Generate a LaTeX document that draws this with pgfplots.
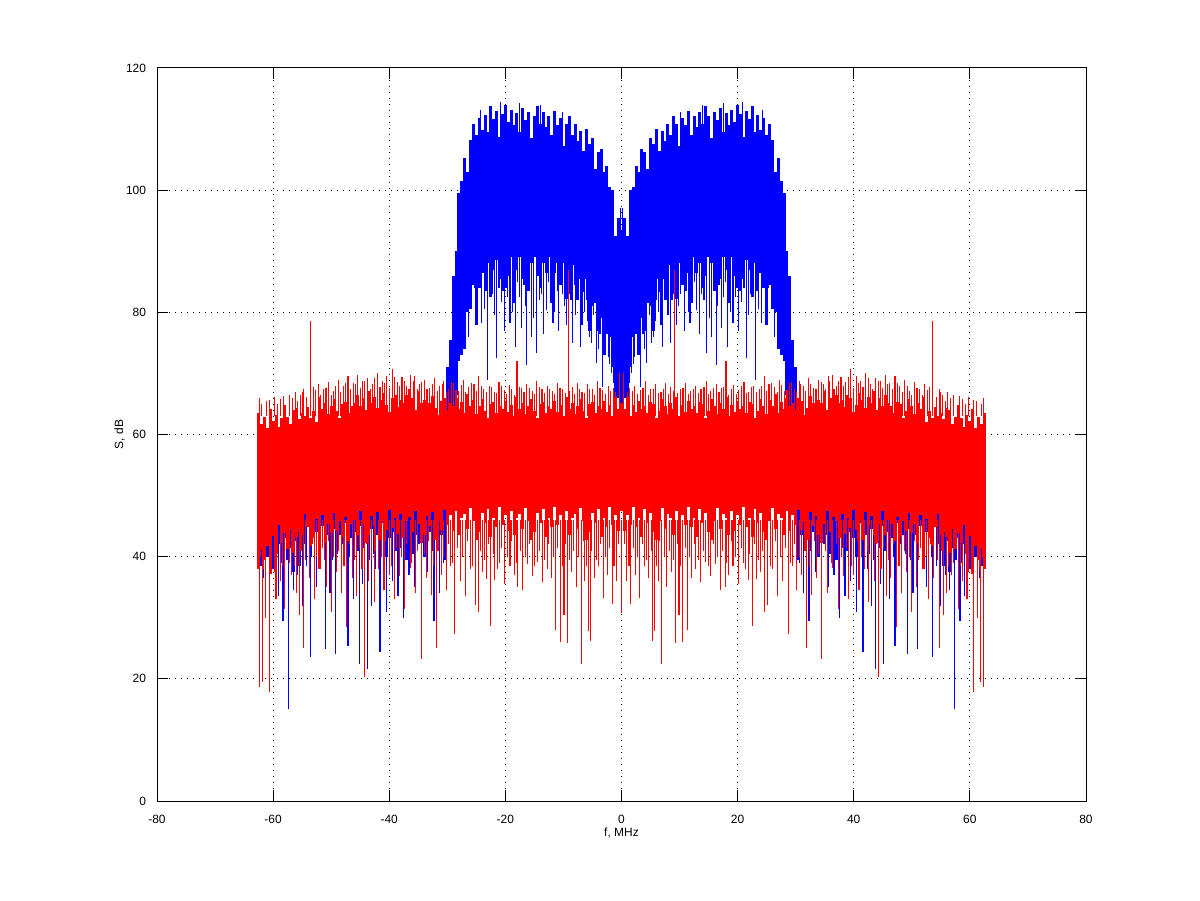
\documentclass[border=0pt]{standalone}
\usepackage{fontspec}
\setmainfont{Liberation Sans}
\usepackage{pgfplots}
\usepackage{pgfplotstable}
\pgfplotsset{compat=1.18}

% red: x, bottom, top of the dense band (0.5 MHz bins)
\pgfplotstableread{
x lo hi
-62.5 38.0 63.5
-62.0 41.2 61.7
-61.5 39.5 62.9
-61.0 41.8 61.0
-60.5 37.2 64.1
-60.0 43.4 62.2
-59.5 41.8 63.2
-59.0 45.2 61.3
-58.5 42.2 62.7
-58.0 43.9 64.8
-57.5 41.2 62.9
-57.0 44.5 61.7
-56.5 40.6 64.0
-56.0 43.3 64.4
-55.5 44.0 62.5
-55.0 43.5 63.6
-54.5 47.0 63.1
-54.0 44.8 64.5
-53.5 41.8 62.7
-53.0 43.0 63.9
-52.5 46.2 62.0
-52.0 44.5 66.1
-51.5 46.8 64.2
-51.0 42.2 65.2
-50.5 45.4 63.3
-50.0 43.8 64.7
-49.5 47.2 65.8
-49.0 44.2 63.9
-48.5 45.9 62.7
-48.0 43.2 65.0
-47.5 46.5 65.4
-47.0 42.6 63.5
-46.5 45.3 64.6
-46.0 46.0 65.1
-45.5 43.5 66.5
-45.0 47.5 64.7
-44.5 45.3 65.9
-44.0 42.3 64.0
-43.5 43.5 67.1
-43.0 46.7 65.2
-42.5 45.0 66.2
-42.0 47.3 64.3
-41.5 42.7 65.7
-41.0 45.9 66.8
-40.5 44.3 64.9
-40.0 47.7 63.7
-39.5 44.7 66.0
-39.0 46.4 66.4
-38.5 43.7 64.5
-38.0 47.0 65.6
-37.5 43.1 65.1
-37.0 45.8 66.5
-36.5 46.5 64.7
-36.0 44.0 65.9
-35.5 47.5 64.0
-35.0 45.3 67.1
-34.5 42.3 65.2
-34.0 43.5 65.7
-33.5 46.7 63.8
-33.0 45.0 65.2
-32.5 47.3 66.3
-32.0 42.7 64.4
-31.5 45.9 63.2
-31.0 44.3 65.5
-30.5 47.7 65.9
-30.0 45.2 64.0
-29.5 46.9 65.1
-29.0 44.2 64.6
-28.5 47.5 66.0
-28.0 43.6 64.2
-27.5 46.3 65.4
-27.0 47.0 63.5
-26.5 44.5 66.6
-26.0 48.0 64.7
-25.5 45.8 65.7
-25.0 42.8 63.3
-24.5 44.0 64.7
-24.0 47.2 65.8
-23.5 45.5 63.9
-23.0 47.8 62.7
-22.5 43.2 65.0
-22.0 46.4 65.4
-21.5 44.8 63.5
-21.0 48.2 64.6
-20.5 45.2 64.1
-20.0 46.9 65.5
-19.5 44.2 63.7
-19.0 47.5 64.9
-18.5 43.6 63.0
-18.0 46.3 66.1
-17.5 47.0 64.2
-17.0 44.5 65.2
-16.5 48.0 63.3
-16.0 45.8 64.7
-15.5 42.8 65.8
-15.0 44.0 63.9
-14.5 47.2 62.7
-14.0 45.5 65.0
-13.5 47.8 65.4
-13.0 43.2 63.5
-12.5 46.4 64.6
-12.0 44.8 64.1
-11.5 48.2 65.5
-11.0 45.2 63.7
-10.5 46.9 64.9
-10.0 44.2 63.0
-9.5 47.5 66.1
-9.0 43.6 64.2
-8.5 46.3 65.2
-8.0 47.0 63.3
-7.5 44.5 64.7
-7.0 48.0 65.8
-6.5 45.8 63.9
-6.0 42.8 62.7
-5.5 44.0 65.0
-5.0 47.2 65.4
-4.5 45.5 63.5
-4.0 47.8 64.6
-3.5 43.2 64.1
-3.0 46.4 65.5
-2.5 44.8 63.7
-2.0 48.2 64.9
-1.5 45.2 63.0
-1.0 46.9 66.1
-0.5 44.2 64.2
0.0 47.5 65.2
0.5 44.2 64.2
1.0 46.9 66.1
1.5 45.2 63.0
2.0 48.2 64.9
2.5 44.8 63.7
3.0 46.4 65.5
3.5 43.2 64.1
4.0 47.8 64.6
4.5 45.5 63.5
5.0 47.2 65.4
5.5 44.0 65.0
6.0 42.8 62.7
6.5 45.8 63.9
7.0 48.0 65.8
7.5 44.5 64.7
8.0 47.0 63.3
8.5 46.3 65.2
9.0 43.6 64.2
9.5 47.5 66.1
10.0 44.2 63.0
10.5 46.9 64.9
11.0 45.2 63.7
11.5 48.2 65.5
12.0 44.8 64.1
12.5 46.4 64.6
13.0 43.2 63.5
13.5 47.8 65.4
14.0 45.5 65.0
14.5 47.2 62.7
15.0 44.0 63.9
15.5 42.8 65.8
16.0 45.8 64.7
16.5 48.0 63.3
17.0 44.5 65.2
17.5 47.0 64.2
18.0 46.3 66.1
18.5 43.6 63.0
19.0 47.5 64.9
19.5 44.2 63.7
20.0 46.9 65.5
20.5 45.2 64.1
21.0 48.2 64.6
21.5 44.8 63.5
22.0 46.4 65.4
22.5 43.2 65.0
23.0 47.8 62.7
23.5 45.5 63.9
24.0 47.2 65.8
24.5 44.0 64.7
25.0 42.8 63.3
25.5 45.8 65.7
26.0 48.0 64.7
26.5 44.5 66.6
27.0 47.0 63.5
27.5 46.3 65.4
28.0 43.6 64.2
28.5 47.5 66.0
29.0 44.2 64.6
29.5 46.9 65.1
30.0 45.2 64.0
30.5 47.7 65.9
31.0 44.3 65.5
31.5 45.9 63.2
32.0 42.7 64.4
32.5 47.3 66.3
33.0 45.0 65.2
33.5 46.7 63.8
34.0 43.5 65.7
34.5 42.3 65.2
35.0 45.3 67.1
35.5 47.5 64.0
36.0 44.0 65.9
36.5 46.5 64.7
37.0 45.8 66.5
37.5 43.1 65.1
38.0 47.0 65.6
38.5 43.7 64.5
39.0 46.4 66.4
39.5 44.7 66.0
40.0 47.7 63.7
40.5 44.3 64.9
41.0 45.9 66.8
41.5 42.7 65.7
42.0 47.3 64.3
42.5 45.0 66.2
43.0 46.7 65.2
43.5 43.5 67.1
44.0 42.3 64.0
44.5 45.3 65.9
45.0 47.5 64.7
45.5 43.5 66.5
46.0 46.0 65.1
46.5 45.3 64.6
47.0 42.6 63.5
47.5 46.5 65.4
48.0 43.2 65.0
48.5 45.9 62.7
49.0 44.2 63.9
49.5 47.2 65.8
50.0 43.8 64.7
50.5 45.4 63.3
51.0 42.2 65.2
51.5 46.8 64.2
52.0 44.5 66.1
52.5 46.2 62.0
53.0 43.0 63.9
53.5 41.8 62.7
54.0 44.8 64.5
54.5 47.0 63.1
55.0 43.5 63.6
55.5 44.0 62.5
56.0 43.3 64.4
56.5 40.6 64.0
57.0 44.5 61.7
57.5 41.2 62.9
58.0 43.9 64.8
58.5 42.2 62.7
59.0 45.2 61.3
59.5 41.8 63.2
60.0 43.4 62.2
60.5 37.2 64.1
61.0 41.8 61.0
61.5 39.5 62.9
62.0 41.2 61.7
62.5 38.0 63.5
}\redbody

% blue: x, bottom, top of the dense band (0.5 MHz bins)
\pgfplotstableread{
x lo hi
-62.5 42.5 60
-62.0 38.5 60
-61.5 41.5 60
-61.0 40 60
-60.5 43.5 60
-60.0 38 60
-59.5 41 60
-59.0 42 60
-58.5 39 60
-58.0 43 60
-57.5 39.5 60
-57.0 41.5 60
-56.5 37.5 60
-56.0 42.5 60
-55.5 38.5 60
-55.0 43.5 60
-54.5 42 60
-54.0 45.5 60
-53.5 40 60
-53.0 43 60
-52.5 44 60
-52.0 41 60
-51.5 45 60
-51.0 41.5 60
-50.5 43.5 60
-50.0 39.5 60
-49.5 44.5 60
-49.0 40.5 60
-48.5 43.5 60
-48.0 42 60
-47.5 45.5 60
-47.0 40 60
-46.5 43 60
-46.0 44 60
-45.5 41 60
-45.0 45 60
-44.5 41.5 60
-44.0 43.5 60
-43.5 39.5 60
-43.0 44.5 60
-42.5 40.5 60
-42.0 43.5 60
-41.5 42 60
-41.0 45.5 60
-40.5 40 60
-40.0 43 60
-39.5 44 60
-39.0 41 60
-38.5 45 60
-38.0 41.5 60
-37.5 43.5 60
-37.0 39.5 60
-36.5 44.5 60
-36.0 40.5 60
-35.5 43.5 60
-35.0 42 60
-34.5 45.5 60
-34.0 40 60
-33.5 43 60
-33.0 44 60
-32.5 41 60
-32.0 45 60
-31.5 41.5 60
-31.0 43.5 60
-30.5 39.5 62
-30.0 58 71
-29.5 61.5 75.5
-29.0 58 86
-28.5 66.5 90
-28.0 72 99.5
-27.5 73 101.5
-27.0 74 105.3
-26.5 80 103
-26.0 80.5 108.2
-25.5 84.5 110.8
-25.0 78 109
-24.5 84 111.8
-24.0 86.5 109.8
-23.5 83.5 112.3
-23.0 88 109.5
-22.5 82.5 113.7
-22.0 87 111.7
-21.5 88.5 113
-21.0 85.5 108.7
-20.5 83.5 112.4
-20.0 87.5 114
-19.5 86 111.2
-19.0 89 113.2
-18.5 81.5 110.7
-18.0 87 112.6
-17.5 89 109.6
-17.0 85.5 113.5
-16.5 89 111.5
-16.0 83.5 112.8
-15.5 88 108.5
-15.0 89 112.1
-14.5 86 113.7
-14.0 84 110.9
-13.5 88 112.8
-13.0 86.5 110.3
-12.5 89 112.1
-12.0 81.5 109
-11.5 86.5 112.9
-11.0 88 110.7
-10.5 84.5 111.8
-10.0 88 107.3
-9.5 82.2 110.8
-9.0 86.5 112.1
-8.5 87.8 109
-8.0 84.5 110.8
-7.5 82 108
-7.0 85.5 109.7
-6.5 83.3 106.4
-6.0 85.5 110
-5.5 77 107.6
-5.0 81 108.5
-4.5 81.5 103.5
-4.0 77 106.2
-3.5 79.5 106.8
-3.0 73 103
-2.5 76.5 104
-2.0 76 100.5
-1.5 71 100
-1.0 66 92.5
-0.5 68 95.5
0.0 64.5 93.5
0.5 68 95.5
1.0 66 92.5
1.5 71 100
2.0 76 100.5
2.5 76.5 104
3.0 73 103
3.5 79.5 106.8
4.0 77 106.2
4.5 81.5 103.5
5.0 81 108.5
5.5 77 107.6
6.0 85.5 110
6.5 83.3 106.4
7.0 85.5 109.7
7.5 82 108
8.0 84.5 110.8
8.5 87.8 109
9.0 86.5 112.1
9.5 82.2 110.8
10.0 88 107.3
10.5 84.5 111.8
11.0 88 110.7
11.5 86.5 112.9
12.0 81.5 109
12.5 89 112.1
13.0 86.5 110.3
13.5 88 112.8
14.0 84 110.9
14.5 86 113.7
15.0 89 112.1
15.5 88 108.5
16.0 83.5 112.8
16.5 89 111.5
17.0 85.5 113.5
17.5 89 109.6
18.0 87 112.6
18.5 81.5 110.7
19.0 89 113.2
19.5 86 111.2
20.0 87.5 114
20.5 83.5 112.4
21.0 85.5 108.7
21.5 88.5 113
22.0 87 111.7
22.5 82.5 113.7
23.0 88 109.5
23.5 83.5 112.3
24.0 86.5 109.8
24.5 84 111.8
25.0 78 109
25.5 84.5 110.8
26.0 80.5 108.2
26.5 80 103
27.0 74 105.3
27.5 73 101.5
28.0 72 99.5
28.5 66.5 90
29.0 58 86
29.5 61.5 75.5
30.0 58 71
30.5 39.5 62
31.0 43.5 60
31.5 41.5 60
32.0 45 60
32.5 41 60
33.0 44 60
33.5 43 60
34.0 40 60
34.5 45.5 60
35.0 42 60
35.5 43.5 60
36.0 40.5 60
36.5 44.5 60
37.0 39.5 60
37.5 43.5 60
38.0 41.5 60
38.5 45 60
39.0 41 60
39.5 44 60
40.0 43 60
40.5 40 60
41.0 45.5 60
41.5 42 60
42.0 43.5 60
42.5 40.5 60
43.0 44.5 60
43.5 39.5 60
44.0 43.5 60
44.5 41.5 60
45.0 45 60
45.5 41 60
46.0 44 60
46.5 43 60
47.0 40 60
47.5 45.5 60
48.0 42 60
48.5 43.5 60
49.0 40.5 60
49.5 44.5 60
50.0 39.5 60
50.5 43.5 60
51.0 41.5 60
51.5 45 60
52.0 41 60
52.5 44 60
53.0 43 60
53.5 40 60
54.0 45.5 60
54.5 42 60
55.0 43.5 60
55.5 38.5 60
56.0 42.5 60
56.5 37.5 60
57.0 41.5 60
57.5 39.5 60
58.0 43 60
58.5 39 60
59.0 42 60
59.5 41 60
60.0 38 60
60.5 43.5 60
61.0 40 60
61.5 41.5 60
62.0 38.5 60
62.5 42.5 60
}\bluebody

% blue isolated spikes: x, from, to
\pgfplotstableread{
x lo hi
-62.3 38 46
-61.6 36.5 46
-60.2 40 46
-59.1 33.5 46
-58.3 29.4 46
-57.4 15 46
-56.5 34.5 46
-55.8 37 46
-55.0 32 46
-54.2 38.5 46
-53.5 23.6 46
-52.6 35 46
-51.8 39 46
-51.0 24.9 46
-50.2 34 46
-49.2 24.1 46
-48.3 36.5 46
-47.1 25.3 46
-46.2 33 46
-45.2 22.4 46
-44.6 35.5 46
-43.8 21.6 46
-43.0 32 46
-42.3 38 46
-41.6 24.4 46
-40.4 31 46
-39.4 36 46
-38.5 33.5 46
-37.5 30 46
-36.6 37 46
-35.6 35 46
-34.5 24 46
-33.4 37.5 46
-32.3 29.4 46
-31.4 34 46
-30.7 39 46
30.7 39 46
31.4 34 46
32.3 29.4 46
33.4 37.5 46
34.5 24 46
35.6 35 46
36.6 37 46
37.5 30 46
38.5 33.5 46
39.4 36 46
40.4 31 46
41.6 24.4 46
42.3 38 46
43.0 32 46
43.8 21.6 46
44.6 35.5 46
45.2 22.4 46
46.2 33 46
47.1 25.3 46
48.3 36.5 46
49.2 24.1 46
50.2 34 46
51.0 24.9 46
51.8 39 46
52.6 35 46
53.5 23.6 46
54.2 38.5 46
55.0 32 46
55.8 37 46
56.5 34.5 46
57.4 15 46
58.3 29.4 46
59.1 33.5 46
60.2 40 46
61.6 36.5 46
62.3 38 46
-27.5 78.2 92
-26.4 76 92
-24.9 81.5 92
-24.1 78.2 92
-23.05 68.9 92
-22.2 83 92
-21.5 72.5 92
-20.6 81.7 92
-19.9 84 92
-19.2 78.2 92
-18.3 74.4 92
-17.6 82.5 92
-16.8 84.5 92
-16.3 71.4 92
-15.5 76 92
-14.6 73.3 92
-13.8 83 92
-12.9 80.4 92
-12.3 84 92
-11.8 78.2 92
-11.1 83.5 92
-10.6 84.8 92
-9.8 81 92
-9.0 83 92
-8.4 75 92
-7.7 82 92
-7.1 74.4 92
-6.4 80 92
-5.8 78.5 92
-5.1 75 92
-4.3 71.7 92
-3.7 76.5 92
-3.2 67.8 92
-2.3 72.7 92
-1.7 70 92
-1.0 66.5 92
1.0 66.5 92
1.7 70 92
2.3 72.7 92
3.2 67.8 92
3.7 76.5 92
4.3 71.7 92
5.1 75 92
5.8 78.5 92
6.4 80 92
7.1 74.4 92
7.7 82 92
8.4 75 92
9.0 83 92
9.8 81 92
10.6 84.8 92
11.1 83.5 92
11.8 78.2 92
12.3 84 92
12.9 80.4 92
13.8 83 92
14.6 73.3 92
15.5 76 92
16.3 71.4 92
16.8 84.5 92
17.6 82.5 92
18.3 74.4 92
19.2 78.2 92
19.9 84 92
20.6 81.7 92
21.5 72.5 92
22.2 83 92
23.05 68.9 92
24.1 78.2 92
24.9 81.5 92
26.4 76 92
27.5 78.2 92
-26.9 79 92
-25.8 82 92
-25.3 84 92
-23.6 80.5 92
-22.7 85 92
-21.9 79.5 92
-21.1 84 92
-20.2 77 92
-19.6 82.5 92
-18.8 80 92
-17.9 85 92
-17.2 77.5 92
-16.5 81 92
-15.9 84 92
-15.1 79 92
-14.2 82 92
-13.4 76.5 92
-12.6 85 92
-11.5 80 92
-10.9 77 92
-10.2 83 92
-9.4 78 92
-8.7 82 92
-8.0 79.5 92
-7.4 84 92
-6.8 78 92
-6.1 82 92
-5.5 76 92
-4.8 79.5 92
-4.0 74 92
-3.5 79 92
-2.8 74.5 92
-2.0 71.5 92
-1.3 68.5 92
-0.6 66 92
0.6 66 92
1.3 68.5 92
2.0 71.5 92
2.8 74.5 92
3.5 79 92
4.0 74 92
4.8 79.5 92
5.5 76 92
6.1 82 92
6.8 78 92
7.4 84 92
8.0 79.5 92
8.7 82 92
9.4 78 92
10.2 83 92
10.9 77 92
11.5 80 92
12.6 85 92
13.4 76.5 92
14.2 82 92
15.1 79 92
15.9 84 92
16.5 81 92
17.2 77.5 92
17.9 85 92
18.8 80 92
19.6 82.5 92
20.2 77 92
21.1 84 92
21.9 79.5 92
22.7 85 92
23.6 80.5 92
25.3 84 92
25.8 82 92
26.9 79 92
-24.3 105 113.2
-22.4 105 113.8
-20.9 105 114.4
-17.5 105 114.3
-13.9 105 114.0
-10.2 105 112.8
10.2 105 112.8
13.9 105 114.0
17.5 105 114.3
20.9 105 114.4
22.4 105 113.8
24.3 105 113.2
-0.2 90 97
0.2 90 97
}\bluespikes

% red isolated spikes: x, from, to
\pgfplotstableread{
x lo hi
-62.4 18.6 46
-61.9 19.5 46
-61.3 30 46
-60.7 17.9 46
-59.5 33 46
-58.8 36 46
-58.0 31.5 46
-56.9 37 46
-56.0 34 46
-55.5 30.5 46
-54.7 25 46
-53.8 36.5 46
-52.9 33 46
-51.9 38 46
-50.8 35 46
-50.0 31 46
-49.1 37.5 46
-48.2 34 46
-47.3 28.5 46
-46.4 36.5 46
-45.6 33.5 46
-44.3 20.3 46
-43.5 36 46
-42.6 32.5 46
-41.8 38 46
-40.9 34.5 46
-40.0 37 46
-39.1 33 46
-38.2 36.8 46
-37.3 31.5 46
-36.4 38.2 46
-35.5 34 46
-34.4 23.2 46
-33.6 36.5 46
-32.8 33.8 46
-31.9 25.1 46
-31.0 37 46
-30.2 34.5 46
-29.4 38.5 46
-28.7 27.3 46
-27.8 36 46
-26.9 33.5 46
-26.0 38 46
-25.1 32.1 46
-24.7 31 46
-23.9 37.5 46
-23.3 36.3 46
-22.5 28.6 46
-21.8 36.2 46
-21.0 39 46
-20.1 35.5 46
-19.2 38.5 46
-18.5 37 46
-17.9 35.1 46
-17.0 34.5 46
-16.2 38.8 46
-15.3 36.8 46
-14.4 39.2 46
-13.6 35.8 46
-12.8 38 46
-12.0 36.5 46
-11.4 28 46
-10.5 26.1 46
-9.9 30.4 46
-9.3 25.9 46
-8.6 37.5 46
-7.8 35 46
-6.9 22.5 46
-6.3 36 46
-5.7 27.8 46
-5.4 26.2 46
-4.6 36.5 46
-3.9 38.5 46
-3.1 33.2 46
-2.4 37 46
-1.6 32.3 46
-0.8 36 46
0.0 30.7 46
0.8 36 46
1.6 32.3 46
2.4 37 46
3.1 33.2 46
3.9 38.5 46
4.6 36.5 46
5.4 26.2 46
5.7 27.8 46
6.3 36 46
6.9 22.5 46
7.8 35 46
8.6 37.5 46
9.3 25.9 46
9.9 30.4 46
10.5 26.1 46
11.4 28 46
12.0 36.5 46
12.8 38 46
13.6 35.8 46
14.4 39.2 46
15.3 36.8 46
16.2 38.8 46
17.0 34.5 46
17.9 35.1 46
18.5 37 46
19.2 38.5 46
20.1 35.5 46
21.0 39 46
21.8 36.2 46
22.5 28.6 46
23.3 36.3 46
23.9 37.5 46
24.7 31 46
25.1 32.1 46
26.0 38 46
26.9 33.5 46
27.8 36 46
28.7 27.3 46
29.4 38.5 46
30.2 34.5 46
31.0 37 46
31.9 25.1 46
32.8 33.8 46
33.6 36.5 46
34.4 23.2 46
35.5 34 46
36.4 38.2 46
37.3 31.5 46
38.2 36.8 46
39.1 33 46
40.0 37 46
40.9 34.5 46
41.8 38 46
42.6 32.5 46
43.5 36 46
44.3 20.3 46
45.6 33.5 46
46.4 36.5 46
47.3 28.5 46
48.2 34 46
49.1 37.5 46
50.0 31 46
50.8 35 46
51.9 38 46
52.9 33 46
53.8 36.5 46
54.7 25 46
55.5 30.5 46
56.0 34 46
56.9 37 46
58.0 31.5 46
58.8 36 46
59.5 33 46
60.7 17.9 46
61.3 30 46
61.9 19.5 46
62.4 18.6 46
-62.1 40 46
-61.6 38 46
-60.3 41 46
-59.8 37.5 46
-59.2 40.5 46
-58.4 38.5 46
-57.7 41.5 46
-57.2 39 46
-56.6 42 46
-56.3 38.5 46
-55.2 41 46
-54.4 39.5 46
-53.3 42 46
-52.6 40 46
-52.1 38 46
-51.5 41.5 46
-51.1 39.5 46
-50.4 42.5 46
-49.6 40 46
-48.7 41 46
-47.8 38.5 46
-46.9 42 46
-46.0 39.5 46
-45.2 41.5 46
-44.7 38 46
-43.9 42 46
-43.1 39.5 46
-42.3 41 46
-41.4 40 46
-40.6 42.5 46
-39.6 38.5 46
-38.8 41.5 46
-37.9 40 46
-37.0 42 46
-36.1 39 46
-35.2 41 46
-34.0 40.5 46
-33.2 42.5 46
-32.4 38.5 46
-31.6 41 46
-30.6 40 46
-29.8 42 46
-29.1 39 46
-28.3 41.5 46
-27.4 40 46
-26.5 42.5 46
-25.6 38.5 46
-24.3 41 46
-23.6 39.5 46
-22.9 42 46
-22.1 40.5 46
-21.4 38 46
-20.6 41.5 46
-19.7 40 46
-18.9 42.5 46
-18.1 39 46
-17.4 41 46
-16.6 40 46
-15.8 42 46
-15.0 38.5 46
-14.1 41 46
-13.3 39.5 46
-12.5 42 46
-11.7 40 46
-11.0 41.5 46
-10.2 38.5 46
-9.6 42 46
-8.9 39.5 46
-8.2 41 46
-7.4 40 46
-6.6 42.5 46
-6.0 38.5 46
-5.1 41 46
-4.3 39.5 46
-3.6 42 46
-2.8 40 46
-2.1 41.5 46
-1.3 38.5 46
-0.5 42 46
0.5 42 46
1.3 38.5 46
2.1 41.5 46
2.8 40 46
3.6 42 46
4.3 39.5 46
5.1 41 46
6.0 38.5 46
6.6 42.5 46
7.4 40 46
8.2 41 46
8.9 39.5 46
9.6 42 46
10.2 38.5 46
11.0 41.5 46
11.7 40 46
12.5 42 46
13.3 39.5 46
14.1 41 46
15.0 38.5 46
15.8 42 46
16.6 40 46
17.4 41 46
18.1 39 46
18.9 42.5 46
19.7 40 46
20.6 41.5 46
21.4 38 46
22.1 40.5 46
22.9 42 46
23.6 39.5 46
24.3 41 46
25.6 38.5 46
26.5 42.5 46
27.4 40 46
28.3 41.5 46
29.1 39 46
29.8 42 46
30.6 40 46
31.6 41 46
32.4 38.5 46
33.2 42.5 46
34.0 40.5 46
35.2 41 46
36.1 39 46
37.0 42 46
37.9 40 46
38.8 41.5 46
39.6 38.5 46
40.6 42.5 46
41.4 40 46
42.3 41 46
43.1 39.5 46
43.9 42 46
44.7 38 46
45.2 41.5 46
46.0 39.5 46
46.9 42 46
47.8 38.5 46
48.7 41 46
49.6 40 46
50.4 42.5 46
51.1 39.5 46
51.5 41.5 46
52.1 38 46
52.6 40 46
53.3 42 46
54.4 39.5 46
55.2 41 46
56.3 38.5 46
56.6 42 46
57.2 39 46
57.7 41.5 46
58.4 38.5 46
59.2 40.5 46
59.8 37.5 46
60.3 41 46
61.6 38 46
62.1 40 46
-62.3 63 66
-61.2 63 65.5
-59.8 63 66.2
-58.7 63 65.8
-57.2 63 66.5
-56.1 63 67
-55.3 63 66.4
-54.7 63 67.5
-53.6 63 78.6
-53.1 63 67.8
-52.2 63 68.2
-51.3 63 67.4
-50.4 63 68.6
-49.6 63 67.2
-48.8 63 69.0
-47.9 63 68.0
-47.1 63 69.5
-46.2 63 68.4
-45.4 63 69.8
-44.6 63 68.7
-43.7 63 69.3
-42.9 63 68.2
-42.1 63 70.0
-41.2 63 68.8
-40.4 63 69.6
-39.5 63 70.8
-38.6 63 68.6
-37.8 63 69.4
-37.0 63 68.0
-36.3 63 69.8
-35.6 63 69.5
-34.8 63 68.3
-33.9 63 68.9
-33.0 63 67.6
-32.2 63 69.2
-31.3 63 68.0
-30.6 63 68.8
-29.8 63 67.5
-28.9 63 68.4
-28.0 63 67.2
-27.2 63 68.9
-26.3 63 67.8
-25.4 63 68.2
-24.6 63 69.5
-23.7 63 67.4
-22.8 63 68.0
-21.9 63 67.0
-21.1 63 68.6
-20.2 63 67.3
-19.3 63 68.1
-18.0 63 72.0
-17.2 63 67.6
-16.3 63 68.3
-15.4 63 67.2
-14.6 63 68.8
-13.7 63 67.5
-12.8 63 68.0
-11.9 63 67.1
-11.0 63 68.5
-10.1 63 67.4
-9.2 63 87.0
-8.5 63 67.8
-7.6 63 68.4
-6.8 63 67.0
-5.9 63 68.2
-5.0 63 67.5
-4.1 63 68.8
-3.2 63 67.3
-2.3 63 68.0
-1.4 63 67.6
-0.3 63 70.0
0.3 63 70.0
1.4 63 67.6
2.3 63 68.0
3.2 63 67.3
4.1 63 68.8
5.0 63 67.5
5.9 63 68.2
6.8 63 67.0
7.6 63 68.4
8.5 63 67.8
9.2 63 87.0
10.1 63 67.4
11.0 63 68.5
11.9 63 67.1
12.8 63 68.0
13.7 63 67.5
14.6 63 68.8
15.4 63 67.2
16.3 63 68.3
17.2 63 67.6
18.0 63 72.0
19.3 63 68.1
20.2 63 67.3
21.1 63 68.6
21.9 63 67.0
22.8 63 68.0
23.7 63 67.4
24.6 63 69.5
25.4 63 68.2
26.3 63 67.8
27.2 63 68.9
28.0 63 67.2
28.9 63 68.4
29.8 63 67.5
30.6 63 68.8
31.3 63 68.0
32.2 63 69.2
33.0 63 67.6
33.9 63 68.9
34.8 63 68.3
35.6 63 69.5
36.3 63 69.8
37.0 63 68.0
37.8 63 69.4
38.6 63 68.6
39.5 63 70.8
40.4 63 69.6
41.2 63 68.8
42.1 63 70.0
42.9 63 68.2
43.7 63 69.3
44.6 63 68.7
45.4 63 69.8
46.2 63 68.4
47.1 63 69.5
47.9 63 68.0
48.8 63 69.0
49.6 63 67.2
50.4 63 68.6
51.3 63 67.4
52.2 63 68.2
53.1 63 67.8
53.6 63 78.6
54.7 63 67.5
55.3 63 66.4
56.1 63 67
57.2 63 66.5
58.7 63 65.8
59.8 63 66.2
61.2 63 65.5
62.3 63 66
-62.0 63 65
-60.6 63 65.6
-59.2 63 65
-58.2 63 66.3
-56.7 63 66
-55.8 63 65.5
-55.0 63 67
-54.2 63 66.2
-52.7 63 67.3
-51.8 63 66.4
-50.9 63 67.6
-50.0 63 66.5
-49.2 63 68
-48.4 63 67
-47.5 63 68.5
-46.6 63 67.4
-45.8 63 68.3
-45.0 63 67.6
-44.2 63 68.8
-43.3 63 67.5
-42.5 63 69.2
-41.6 63 67.8
-40.8 63 68.5
-39.9 63 67.6
-39.1 63 69.4
-38.2 63 67.9
-37.4 63 68.7
-36.6 63 67.5
-35.9 63 68.8
-35.2 63 67.5
-34.4 63 68.6
-33.5 63 67.4
-32.6 63 68.3
-31.7 63 67.2
-30.9 63 68.2
-30.2 63 67.0
-29.3 63 68.6
-28.5 63 67.3
-27.6 63 68.1
-26.8 63 67.0
-25.9 63 68.4
-25.0 63 67.2
-24.1 63 68.0
-23.2 63 66.9
-22.4 63 67.8
-21.5 63 66.8
-20.7 63 67.9
-19.8 63 66.7
-18.9 63 67.5
-18.5 63 66.5
-17.6 63 67.8
-16.8 63 66.9
-15.9 63 67.6
-15.0 63 66.6
-14.2 63 67.7
-13.3 63 66.8
-12.4 63 67.4
-11.5 63 66.7
-10.6 63 67.6
-9.7 63 66.8
-8.9 63 67.2
-8.1 63 66.6
-7.2 63 67.5
-6.4 63 66.8
-5.5 63 67.4
-4.6 63 66.5
-3.7 63 67.6
-2.8 63 66.7
-1.9 63 67.2
-1.0 63 66.9
1.0 63 66.9
1.9 63 67.2
2.8 63 66.7
3.7 63 67.6
4.6 63 66.5
5.5 63 67.4
6.4 63 66.8
7.2 63 67.5
8.1 63 66.6
8.9 63 67.2
9.7 63 66.8
10.6 63 67.6
11.5 63 66.7
12.4 63 67.4
13.3 63 66.8
14.2 63 67.7
15.0 63 66.6
15.9 63 67.6
16.8 63 66.9
17.6 63 67.8
18.5 63 66.5
18.9 63 67.5
19.8 63 66.7
20.7 63 67.9
21.5 63 66.8
22.4 63 67.8
23.2 63 66.9
24.1 63 68.0
25.0 63 67.2
25.9 63 68.4
26.8 63 67.0
27.6 63 68.1
28.5 63 67.3
29.3 63 68.6
30.2 63 67.0
30.9 63 68.2
31.7 63 67.2
32.6 63 68.3
33.5 63 67.4
34.4 63 68.6
35.2 63 67.5
35.9 63 68.8
36.6 63 67.5
37.4 63 68.7
38.2 63 67.9
39.1 63 69.4
39.9 63 67.6
40.8 63 68.5
41.6 63 67.8
42.5 63 69.2
43.3 63 67.5
44.2 63 68.8
45.0 63 67.6
45.8 63 68.3
46.6 63 67.4
47.5 63 68.5
48.4 63 67
49.2 63 68
50.0 63 66.5
50.9 63 67.6
51.8 63 66.4
52.7 63 67.3
54.2 63 66.2
55.0 63 67
55.8 63 65.5
56.7 63 66
58.2 63 66.3
59.2 63 65
60.6 63 65.6
62.0 63 65
}\redspikes

\begin{document}
\begin{tikzpicture}
\fill[white] (0,0) rectangle (600bp,450.5bp);
\useasboundingbox (0,0) rectangle (600bp,450.5bp);
\begin{axis}[
  at={(78.5bp,50bp)}, anchor=south west,
  scale only axis, width=464.5bp, height=366.5bp,
  xmin=-80, xmax=80, ymin=0, ymax=120,
  xtick={-80,-60,...,80}, ytick={0,20,...,120},
  axis line style={black, line width=0.5bp},
  tick align=inside, major tick length=5.5bp,
  tick style={black, line width=0.5bp},
  grid=major,
  major grid style={black, line width=0.5bp, dash pattern=on 0.5bp off 2.5bp},
  /pgf/number format/assume math mode=true,
  tick label style={font=\fontsize{6}{7}\selectfont},
  label style={font=\fontsize{6}{7}\selectfont},
  xticklabel style={yshift=-3.5bp},
  yticklabel style={xshift=-2bp},
  xlabel={f, MHz}, ylabel={S, dB},
  xlabel style={at={(axis description cs:0.5,-0.0437)}, anchor=center},
  ylabel style={at={(axis description cs:-0.0404,0.5)}, anchor=center},
]
\addplot[blue, line width=1.5bp, quiver={u=0, v=\thisrow{hi}-\thisrow{lo}}] table[x=x, y=lo] {\bluebody};
\addplot[blue, line width=0.55bp, quiver={u=0, v=\thisrow{hi}-\thisrow{lo}}] table[x=x, y=lo] {\bluespikes};
\addplot[red, line width=1.5bp, quiver={u=0, v=\thisrow{hi}-\thisrow{lo}}] table[x=x, y=lo] {\redbody};
\addplot[red, line width=0.55bp, quiver={u=0, v=\thisrow{hi}-\thisrow{lo}}] table[x=x, y=lo] {\redspikes};
\end{axis}
\end{tikzpicture}
\end{document}
